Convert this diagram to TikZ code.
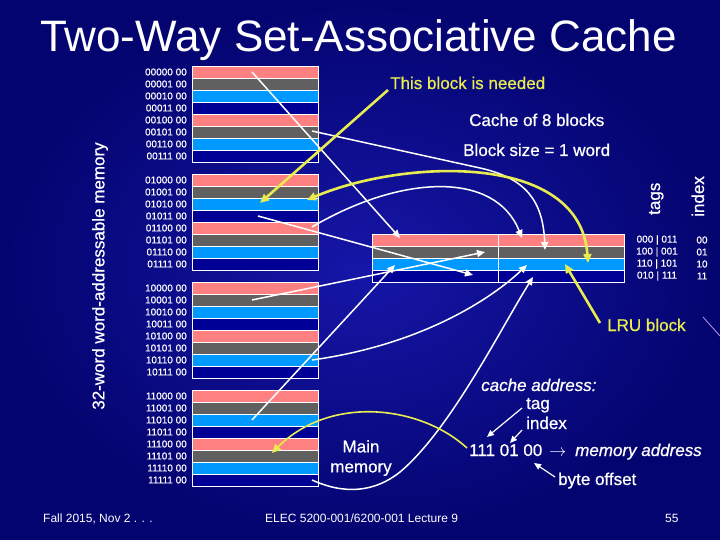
\documentclass[tikz,border=0pt]{standalone}
\usepackage{fontspec}
\setmainfont{Liberation Sans}
\newfontfamily\semib[FakeBold=0.7]{Liberation Sans}
\usetikzlibrary{arrows.meta,calc}
\definecolor{bgA}{RGB}{22,22,168}
\definecolor{bgB}{RGB}{4,4,112}
\definecolor{cpink}{RGB}{255,128,128}
\definecolor{cgray}{RGB}{96,96,96}
\definecolor{cblue}{RGB}{0,153,255}
\definecolor{cnavy}{RGB}{0,0,150}
\definecolor{hyel}{RGB}{232,236,80}
\definecolor{streak}{RGB}{190,150,230}
\begin{document}
\begin{tikzpicture}[x=1pt,y=-1pt,
  blk/.style={draw=white, line width=0.8pt, minimum width=126pt, minimum height=12pt, inner sep=0pt, outer sep=0pt},
  addr/.style={font=\semib\fontsize{10}{10}\selectfont, text=white, anchor=east, inner sep=0pt},
  tagt/.style={font=\semib\fontsize{10}{10}\selectfont, text=white, inner sep=0pt},
  lbl/.style={font=\semib\fontsize{17}{20}\selectfont, text=white, inner sep=0pt},
  foot/.style={font=\fontsize{12}{12}\selectfont, text=white, inner sep=0pt, anchor=base west},
  warr/.style={draw=white, line width=1.5pt, -{Triangle[length=8pt,width=7pt]}},
  wthin/.style={draw=white, line width=1.2pt, -{Triangle[length=7pt,width=6pt]}},
  yarr/.style={draw=hyel, line width=2.6pt, -{Triangle[length=9pt,width=8pt]}},
]
\useasboundingbox (0,0) rectangle (720,540);
\shade[inner color=bgA, outer color=bgB] (0,0) rectangle (720,540);
\draw[streak, line width=0.8pt] (703,317) -- (720,336);

% title
\node[anchor=base west, font=\fontsize{44}{44}\selectfont, text=white, inner sep=0pt] (title) at (40,52) {Two-Way Set-Associative Cache};

% memory
\foreach \g/\ty/\gb in {0/66/00,1/174/01,2/282/10,3/390/11}{
  \foreach \r/\col/\rb in {0/cpink/000,1/cgray/001,2/cblue/010,3/cnavy/011,4/cpink/100,5/cgray/101,6/cblue/110,7/cnavy/111}{
    \node[blk, fill=\col] (m\g\r) at (255,{\ty+12*\r+6}) {};
    \node[addr] (a\g\r) at (187,{\ty+12*\r+6}) {\gb\rb\ 00};
  }
}

% cache
\foreach \s/\col/\tg/\ix in {0/cpink/{000 | 011}/00,1/cgray/{100 | 001}/01,2/cblue/{110 | 101}/10,3/cnavy/{010 | 111}/11}{
  \node[blk, fill=\col] (c\s0) at (435,{240+12*\s}) {};
  \node[blk, fill=\col] (c\s1) at (561,{240+12*\s}) {};
  \node[tagt] (t\s) at (657,{240+12*\s}) {\tg};
  \node[tagt] (i\s) at (702,{240+12*\s}) {\ix};
}

% labels
\node[lbl, rotate=90] (vlab) at (100,276) {32-word word-addressable memory};
\node[lbl, text=hyel, anchor=base west] (need) at (390,89) {This block is needed};
\node[lbl, anchor=base west] (c8) at (469,126) {Cache of 8 blocks};
\node[lbl, anchor=base west] (bs) at (463,156) {Block size = 1 word};
\node[lbl, rotate=90, anchor=base west] (tagsl) at (660,215) {tags};
\node[lbl, rotate=90, anchor=base west] (indexl) at (704,217) {index};
\node[lbl, text=hyel, anchor=base west] (lru) at (607,331) {LRU block};
\node[lbl, anchor=base west, font=\semib\fontsize{17}{20}\selectfont\itshape] (caddr) at (481,391) {cache address:};
\node[lbl, anchor=base west] (tagw) at (526,409) {tag};
\node[lbl, anchor=base west] (idxw) at (526,429) {index};
\node[lbl, anchor=base west] (num) at (469,456) {111 01 00};
\node[lbl, anchor=base west] (arr) at (549,456) {$\rightarrow$};
\node[lbl, anchor=base west, font=\semib\fontsize{17}{20}\selectfont\itshape] (maddr) at (575,456) {memory address};
\node[lbl, anchor=base west] (boff) at (558,485) {byte offset};
\node[lbl, align=center] (mainmem) at (361,458) {Main\\memory};

% footer
\node[foot] (f1) at (43,522) {Fall 2015, Nov 2 . . .};
\node[foot] (f2) at (265,522) {ELEC 5200-001/6200-001 Lecture 9};
\node[foot] (f3) at (665,522) {55};

% white mapping arrows
\draw[warr] ($(m00)+(-3,0)$) -- ($(c00)+(-35,-2)$);
\draw[warr] ($(m05)+(57,-1)$) -- (480,168) .. controls (525,178) and (543,200) .. ($(c11)+(-16,-2)$);
\draw[warr] ($(m14)+(57,-1)$) .. controls (400,175) and (495,170) .. ($(c01)+(-39,-2)$);
\draw[warr] ($(m21)+(-3,0)$) -- ($(c10)+(50,0)$);
\draw[warr] ($(m32)+(-3,0)$) -- ($(c20)+(-40,1)$);
\draw[warr] ($(m26)+(57,0)$) .. controls (420,345) and (490,300) .. ($(c21)+(-34,1)$);
\draw[warr] ($(m13)+(3,0)$) -- ($(c30)+(38,-1)$);
\draw[warr] ($(m37)+(57,0)$) .. controls (345,495) and (375,492) .. (400,472) .. controls (450,430) and (500,330) .. ($(c31)+(-28,1)$);

% yellow arrows
\draw[yarr] ($(need.base west)+(-2,1)$) -- ($(m12)+(5,-1)$);
\draw[yarr, {Triangle[length=9pt,width=8pt]}-{Triangle[length=9pt,width=8pt]}] ($(m12)+(52,-4)$) .. controls (400,160) and (580,150) .. ($(c21)+(27,-1)$);
\draw[yarr] ($(lru.base west)+(-7,-8)$) -- ($(c21)+(4,0)$);
\draw[yarr, line width=1.6pt] ($(num.base west)+(-2,-8)$) .. controls (420,405) and (330,395) .. ($(m35)+(17,-3)$);

% address arrows
\draw[wthin] ($(tagw.base west)+(-4,-1)$) -- ($(num.base west)+(18,-19)$);
\draw[wthin] ($(idxw.base west)+(-4,1)$) -- ($(num.base west)+(41,-13)$);
\draw[wthin] ($(boff.base west)+(-3,-8)$) -- ($(num.base west)+(65,7)$);
\end{tikzpicture}
\end{document}
